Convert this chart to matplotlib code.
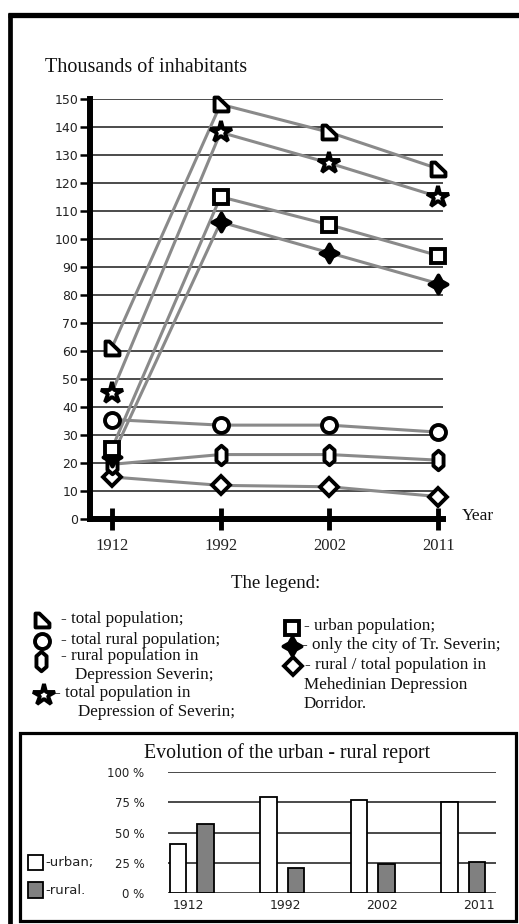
import matplotlib
matplotlib.use("Agg")
import matplotlib.pyplot as plt
from matplotlib.path import Path
from matplotlib.patches import Rectangle
import numpy as np

# ---------------- data ----------------
years = ["1912", "1992", "2002", "2011"]
total_population = [61, 148, 138, 125]
total_pop_depression = [45, 138, 127, 115]
urban_population = [25, 115, 105, 94]
city_tr_severin = [22, 106, 95, 84]
total_rural = [35.5, 33.5, 33.5, 31]
rural_depression = [19.5, 23, 23, 21]
rural_total_mehedinti = [15, 12, 11.5, 8]

yticks_main = list(range(0, 151, 10))

urban_pct = [41, 79, 77, 75]
rural_pct = [57, 21, 24, 26]
pct_ticks = [0, 25, 50, 75, 100]
pct_labels = ["0 %", "25 %", "50 %", "75 %", "100 %"]

# ---------------- figure ----------------
W, H = 519, 924
fig = plt.figure(figsize=(W / 100, H / 100), dpi=100)
fig.patch.set_facecolor("white")

SERIF = "Liberation Serif"
SANS = "DejaVu Sans"


def px_axes(left, top, right, bottom, **kw):
    return fig.add_axes([left / W, 1 - bottom / H, (right - left) / W, (bottom - top) / H], **kw)


# background axes in pixel coordinates for frames / annotations
bg = fig.add_axes([0, 0, 1, 1], zorder=0)
bg.set_xlim(0, W)
bg.set_ylim(H, 0)
bg.axis("off")

# marker shapes
tri_m = Path([(-1, -1), (1, -1), (1, -0.4), (-0.45, 1), (-1, 1), (-1, -1)],
             [Path.MOVETO, Path.LINETO, Path.LINETO, Path.LINETO, Path.LINETO, Path.CLOSEPOLY])
hex_m = Path([(0, 1), (0.52, 0.55), (0.52, -0.55), (0, -1), (-0.52, -0.55), (-0.52, 0.55), (0, 1)],
             [Path.MOVETO] + [Path.LINETO] * 5 + [Path.CLOSEPOLY])
s = 0.36
plus_m = Path([(0, 1), (s, s), (1, 0), (s, -s), (0, -1), (-s, -s), (-1, 0), (-s, s), (0, 1)],
              [Path.MOVETO] + [Path.LINETO] * 7 + [Path.CLOSEPOLY])

series = [
    (total_population, tri_m, 10, "white"),
    (total_pop_depression, "*", 16, "white"),
    (urban_population, "s", 9.8, "white"),
    (city_tr_severin, plus_m, 13, "black"),
    (total_rural, "o", 10.8, "white"),
    (rural_depression, hex_m, 14, "white"),
    (rural_total_mehedinti, "D", 9.2, "white"),
]
MEW = 2.8

# ---------------- main line chart ----------------
ax = px_axes(90, 98.7, 443, 519)
x = np.arange(len(years))
unit = (438.3 - 111.7) / 3
ax.set_xlim((90 - 111.7) / unit, 3 + (443 - 438.3) / unit)
ax.set_ylim(0, 150)
ax.set_facecolor("none")

for vals, mk, ms, fc in series:
    ax.plot(x, vals, color="#8a8a8a", lw=2.2, zorder=2, solid_capstyle="butt")
for vals, mk, ms, fc in series[::-1]:
    ax.plot(x, vals, linestyle="none", marker=mk, ms=ms, mfc=fc, mec="black",
            mew=MEW, zorder=3, clip_on=False)

ax.set_yticks(yticks_main)
ax.set_yticklabels([str(v) for v in yticks_main], fontfamily=SANS, fontsize=9, color="#222")
ax.set_xticks(x)
ax.set_xticklabels(years, fontfamily=SERIF, fontsize=12, color="#222")
ax.set_axisbelow(True)
ax.yaxis.grid(True, color="#1a1a1a", lw=1.1)
ax.xaxis.grid(False)
ax.tick_params(axis="y", direction="out", length=7, width=1.8, pad=1.5, color="black")
ax.tick_params(axis="x", direction="inout", length=16, width=3.5, pad=6, color="black")
for side in ("top", "right"):
    ax.spines[side].set_visible(False)
for side in ("left", "bottom"):
    ax.spines[side].set_linewidth(4.3)
    ax.spines[side].set_color("black")
    ax.spines[side].set_capstyle("projecting")

bg.text(45, 68, "Thousands of inhabitants", fontfamily=SERIF, fontsize=14.5,
        ha="left", va="center", color="#111")
bg.text(462, 516, "Year", fontfamily=SERIF, fontsize=12.5, ha="left", va="center", color="#111")

# ---------------- legend ----------------
bg.text(276, 583, "The legend:", fontfamily=SERIF, fontsize=13.5, ha="center", va="center", color="#111")

LFS = 12.3
leg_left = [
    (42, 620, tri_m, 10, "white", [(61, 619, "- total population;")]),
    (42, 641, "o", 10.8, "white", [(61, 640, "- total rural population;")]),
    (41, 661, hex_m, 14, "white", [(61, 656, "- rural population in"), (75, 675, "Depression Severin;")]),
    (44, 695, "*", 16, "white", [(55, 693, "- total population in"), (78, 712, "Depression of Severin;")]),
]
leg_right = [
    (292, 628, "s", 9.8, "white", [(304, 626, "- urban population;")]),
    (292, 646, plus_m, 13, "black", [(302, 645, "- only the city of Tr. Severin;")]),
    (293, 666, "D", 9.2, "white", [(305, 665, "- rural / total population in"),
                                   (304, 685, "Mehedinian Depression"), (304, 704, "Dorridor.")]),
]
for mx, my, mk, ms, fc, texts in leg_left + leg_right:
    bg.plot([mx], [my], marker=mk, ms=ms, mfc=fc, mec="black", mew=MEW, linestyle="none")
    for tx, ty, t in texts:
        bg.text(tx, ty, t, fontfamily=SERIF, fontsize=LFS, ha="left", va="center", color="#111")

# ---------------- frames ----------------
bg.plot([8, W], [14.5, 14.5], color="black", lw=3.8, solid_capstyle="butt")
bg.plot([10, 10], [12.5, H], color="black", lw=3.4, solid_capstyle="butt")
bg.add_patch(Rectangle((19.5, 733), 496, 187.5, fill=False, edgecolor="black", lw=2.3))

# ---------------- bar chart ----------------
bg.text(287, 753, "Evolution of the urban - rural report", fontfamily=SERIF, fontsize=14.3,
        ha="center", va="center", color="#111")

bx = px_axes(168, 772, 496, 893.3)
bunit = 90.5
g0 = 191.8
bx.set_xlim((168 - g0) / bunit, (496 - g0) / bunit)
bx.set_ylim(0, 100)
bx.set_facecolor("none")
bw = 16.5 / bunit
off = 13.8 / bunit
bx.bar(x - off, urban_pct, width=bw, color="white", edgecolor="black", lw=1.3, zorder=3)
bx.bar(x + off, rural_pct, width=bw, color="#808080", edgecolor="black", lw=1.3, zorder=3)
bx.set_axisbelow(True)
bx.set_yticks(pct_ticks)
bx.set_yticklabels(pct_labels, fontfamily=SANS, fontsize=8.5, color="#222")
bx.yaxis.grid(True, color="#2a2a2a", lw=1.2)
bx.set_xticks(x * 1.07 - 0.04)
bx.set_xticklabels(years, fontfamily=SANS, fontsize=9, color="#222")
bx.tick_params(axis="y", length=0, pad=17)
bx.tick_params(axis="x", length=0, pad=4)
for sp in bx.spines.values():
    sp.set_visible(False)

# bar legend
bg.add_patch(Rectangle((27.5, 855), 15, 15, facecolor="white", edgecolor="black", lw=1.3))
bg.add_patch(Rectangle((27.5, 882), 15, 16, facecolor="#808080", edgecolor="black", lw=1.3))
bg.text(45, 862.5, "-urban;", fontfamily=SANS, fontsize=9.5, ha="left", va="center", color="#222")
bg.text(45, 891, "-rural.", fontfamily=SANS, fontsize=9.5, ha="left", va="center", color="#222")

fig.savefig("out.png", dpi=100, facecolor="white")
